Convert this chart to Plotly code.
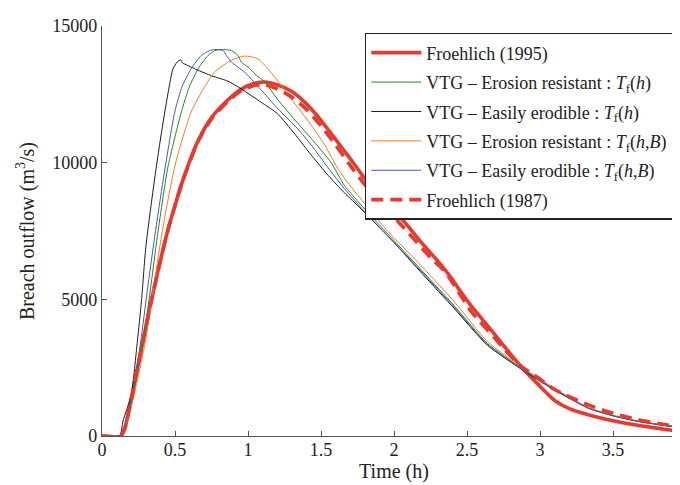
import plotly.graph_objects as go

# ---------------- data ----------------
red95_t = [0, 0.13, 0.16, 0.2, 0.27, 0.33, 0.384, 0.452, 0.498, 0.55, 0.658, 0.75, 0.863, 0.95, 1.03,
           1.114, 1.2, 1.3, 1.4, 1.5, 1.6, 1.7, 1.8, 1.9, 2.07, 2.2, 2.3, 2.39, 2.45, 2.53, 2.64, 2.71,
           2.76, 2.87, 2.99, 3.1, 3.2, 3.33, 3.5, 3.67, 3.85, 4.0]
red95_q = [0, 0, 350, 1350, 3200, 4750, 6050, 7550, 8400, 9300, 10800, 11650, 12300, 12680, 12880,
           12950, 12850, 12600, 12150, 11550, 10850, 10150, 9420, 8800, 7840, 7000, 6400, 5800, 5330, 4750,
           4040, 3580, 3250, 2540, 1870, 1300, 1000, 780, 560, 390, 250, 146]

green_t = [0, 0.125, 0.15, 0.2, 0.281, 0.33, 0.379, 0.45, 0.543, 0.6, 0.658, 0.726, 0.772, 0.817, 0.886,
           0.932, 0.954, 1.0, 1.046, 1.114, 1.205, 1.34, 1.434, 1.57, 1.66, 1.8, 2.0, 2.2, 2.415, 2.64,
           2.87, 3.1, 3.33, 3.5, 3.67, 3.85, 4.0]
green_q = [0, 0, 280, 1150, 3455, 5300, 7300, 9800, 11850, 12800, 13430, 13920, 14100, 14140, 14100,
           13920, 13680, 13500, 13250, 12950, 12300, 11450, 10880, 10000, 9170, 8300, 7150, 6000, 4750, 3380,
           2500, 1720, 1030, 750, 540, 395, 290]

black_t = [0, 0.12, 0.144, 0.2, 0.242, 0.27, 0.3, 0.35, 0.39, 0.43, 0.486, 0.515, 0.54, 0.552, 0.57,
           0.65, 0.75, 0.863, 0.954, 1.09, 1.2, 1.32, 1.43, 1.548, 1.66, 1.776, 1.96, 2.0, 2.2, 2.415,
           2.64, 2.87, 3.1, 3.33, 3.5, 3.67, 3.85, 4.0]
black_q = [0, 0, 550, 1510, 3455, 4920, 6900, 9000, 10500, 11850, 13430, 13680, 13760, 13640, 13600,
           13400, 13180, 12980, 12700, 12210, 11800, 11050, 10300, 9540, 8900, 8300, 7300, 7080, 5900, 4650,
           3320, 2450, 1680, 1020, 740, 535, 390, 290]

orange_t = [0, 0.125, 0.15, 0.2, 0.297, 0.35, 0.41, 0.5, 0.61, 0.7, 0.77, 0.886, 0.977, 1.068, 1.137,
            1.217, 1.3, 1.434, 1.53, 1.616, 1.7, 1.8, 1.96, 2.05, 2.2, 2.415, 2.64, 2.87, 3.1, 3.33, 3.5,
            3.67, 3.85, 4.0]
orange_q = [0, 0, 250, 1050, 3455, 5300, 7400, 9900, 11850, 12750, 13310, 13750, 13900, 13800, 13430,
            12900, 12300, 11370, 10600, 9780, 9150, 8500, 7470, 6980, 6150, 4900, 3450, 2540, 1740, 1050, 760,
            560, 400, 300]

blue_t = [0, 0.125, 0.15, 0.2, 0.265, 0.31, 0.361, 0.42, 0.498, 0.55, 0.61, 0.68, 0.737, 0.772, 0.829,
          0.852, 0.886, 0.977, 1.114, 1.205, 1.34, 1.434, 1.57, 1.66, 1.8, 1.98, 2.2, 2.415, 2.64, 2.87,
          3.1, 3.33, 3.5, 3.67, 3.85, 4.0]
blue_q = [0, 0, 300, 1250, 3455, 5300, 7300, 9400, 11850, 12800, 13430, 13920, 14100, 14140, 14100,
          13920, 13680, 13310, 12520, 11970, 11240, 10640, 9660, 9050, 8200, 7200, 5950, 4700, 3340, 2470,
          1700, 1020, 740, 535, 390, 290]

red87_t = [0, 0.13, 0.16, 0.2, 0.27, 0.33, 0.384, 0.452, 0.498, 0.55, 0.658, 0.75, 0.863, 0.95, 1.05,
           1.114, 1.2, 1.3, 1.4, 1.5, 1.6, 1.7, 1.8, 1.9, 2.07, 2.255, 2.35, 2.44, 2.53, 2.69, 2.76, 2.87,
           2.99, 3.1, 3.33, 3.5, 3.67, 3.85, 4.0]
red87_q = [0, 0, 350, 1350, 3200, 4750, 6050, 7550, 8400, 9300, 10780, 11600, 12250, 12620, 12830,
           12850, 12700, 12400, 11950, 11350, 10650, 9900, 9200, 8600, 7600, 6500, 6010, 5280, 4550, 3580,
           3150, 2560, 2120, 1700, 1140, 830, 600, 420, 290]

series_names = [
    "Froehlich (1995)",
    "VTG \u2013 Erosion resistant : <i>T</i><sub>f</sub>(<i>h</i>)",
    "VTG \u2013 Easily erodible : <i>T</i><sub>f</sub>(<i>h</i>)",
    "VTG \u2013 Erosion resistant : <i>T</i><sub>f</sub>(<i>h</i>,<i>B</i>)",
    "VTG \u2013 Easily erodible : <i>T</i><sub>f</sub>(<i>h</i>,<i>B</i>)",
    "Froehlich (1987)",
]
x_tick_vals = [0, 0.5, 1, 1.5, 2, 2.5, 3, 3.5, 4]
x_tick_text = ["0", "0.5", "1", "1.5", "2", "2.5", "3", "3.5", "4"]
y_tick_vals = [0, 5000, 10000, 15000]
y_tick_text = ["0", "5000", "10000", "15000"]

# ---------------- figure ----------------
RED = "#e8392f"
styles = [
    (red95_t, red95_q, dict(color=RED, width=3.6)),
    (green_t, green_q, dict(color="#1e8a24", width=1)),
    (black_t, black_q, dict(color="#1a1a1a", width=1)),
    (orange_t, orange_q, dict(color="#f47a2a", width=1)),
    (blue_t, blue_q, dict(color="#4656b8", width=1)),
    (red87_t, red87_q, dict(color=RED, width=3.6, dash="12px,7px")),
]

fig = go.Figure()
for i, ((t, q, ln), name) in enumerate(zip(styles, series_names)):
    ln = dict(ln, shape="spline", smoothing=0.6)
    fig.add_trace(go.Scatter(x=t, y=q, mode="lines", name=name, line=ln,
                             legendgroup=f"g{i}", cliponaxis=False))

FONT = '"Liberation Serif", "Times New Roman", Times, serif'
axis_common = dict(
    showline=True, linecolor="#555555", linewidth=1.3,
    ticks="inside", ticklen=5, tickcolor="#555555", tickwidth=1.2,
    showgrid=False, zeroline=False, automargin=False,
    ticklabeloverflow="allow",
    tickfont=dict(family=FONT, size=18, color="#222222"),
)

fig.update_layout(
    width=680, height=485,
    margin=dict(l=94, r=2, t=18, b=57),
    paper_bgcolor="white", plot_bgcolor="white",
    font=dict(family=FONT, size=18, color="#222222"),
    xaxis=dict(range=[0, 4], tickvals=x_tick_vals, ticktext=x_tick_text,
               ticklabelstandoff=-3,
               title=dict(text="Time (h)", font=dict(family=FONT, size=20), standoff=4),
               **axis_common),
    yaxis=dict(range=[0, 15000], tickvals=y_tick_vals, ticktext=y_tick_text,
               title=dict(text="Breach outflow (m<sup>3</sup>/s)", font=dict(family=FONT, size=20),
                          standoff=12),
               **axis_common),
    legend=dict(x=0.45, y=0.983, xanchor="left", yanchor="top",
                bgcolor="white", bordercolor="#222222", borderwidth=1.5,
                font=dict(family=FONT, size=18, color="#222222"),
                tracegroupgap=3, itemwidth=50, traceorder="grouped"),
    showlegend=True,
)

fig.write_html("out.html")
